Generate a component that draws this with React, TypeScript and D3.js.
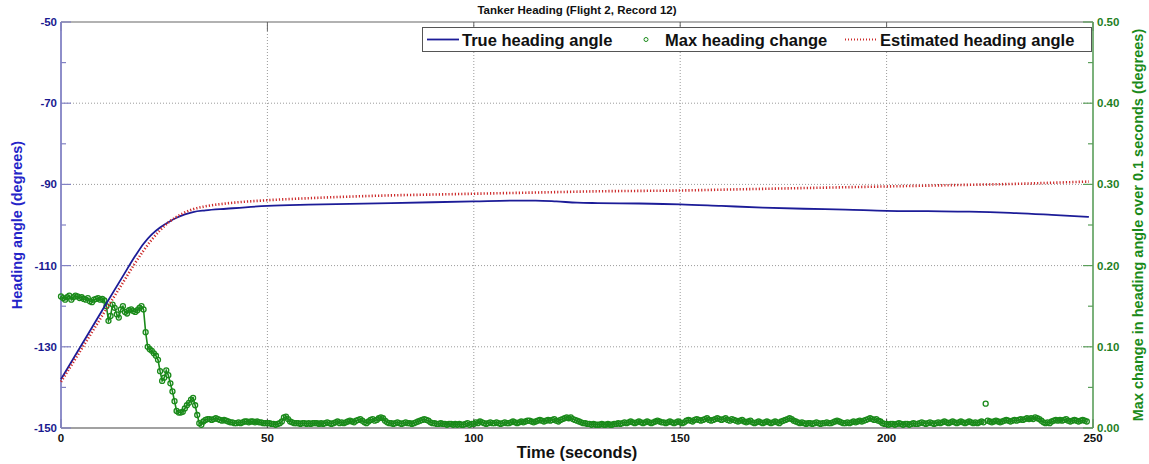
import React from 'react';
import * as d3 from 'd3';

// Axis ticks
const timeTicks = [0, 50, 100, 150, 200, 250];
const headingTicks = [-50, -70, -90, -110, -130, -150];
const changeTicks = [0, 0.1, 0.2, 0.3, 0.4, 0.5];

// True heading angle (degrees)
const trueTimes = [0, 5, 10, 15, 18, 20, 22, 24, 26, 28, 30, 32, 35, 40, 50, 60, 70, 80, 90, 100, 110, 115, 120, 125, 130, 140, 150, 160, 170, 180, 190, 200, 210, 220, 230, 240, 249];
const trueHeading = [-138.0, -129.5, -121.0, -112.6, -107.6, -104.6, -102.3, -100.6, -99.3, -98.2, -97.4, -96.8, -96.4, -96.0, -95.3, -95.0, -94.8, -94.6, -94.4, -94.2, -94.0, -94.0, -94.2, -94.5, -94.6, -94.7, -94.9, -95.3, -95.7, -96.0, -96.2, -96.5, -96.6, -96.7, -97.0, -97.5, -98.0];

// Estimated heading angle (degrees)
const estTimes = [0, 5, 10, 15, 18, 20, 22, 24, 26, 28, 30, 32, 35, 40, 50, 60, 70, 80, 90, 100, 110, 120, 130, 140, 150, 160, 170, 180, 190, 200, 210, 220, 230, 240, 249];
const estHeading = [-138.6, -130.5, -122.3, -114.2, -109.3, -106.3, -103.6, -101.3, -99.4, -98.0, -96.9, -96.1, -95.4, -94.7, -93.9, -93.4, -93.0, -92.7, -92.5, -92.3, -92.1, -91.9, -91.7, -91.6, -91.5, -91.3, -91.1, -90.9, -90.7, -90.5, -90.3, -90.1, -89.9, -89.6, -89.3];

// Max heading change over 0.1 s (degrees), sampled every 0.5 s from t = 0
const changeStep = 0.5;
const maxChange = [
  0.162, 0.160, 0.158, 0.161, 0.163, 0.158, 0.161, 0.163, 0.162, 0.160,
  0.161, 0.159, 0.158, 0.160, 0.156, 0.155, 0.158, 0.159, 0.160, 0.158,
  0.159, 0.157, 0.150, 0.132, 0.138, 0.152, 0.148, 0.140, 0.136, 0.146,
  0.150, 0.143, 0.141, 0.145, 0.146, 0.144, 0.143, 0.145, 0.148, 0.150,
  0.146, 0.118, 0.100, 0.097, 0.095, 0.092, 0.089, 0.084, 0.070, 0.058,
  0.062, 0.071, 0.065, 0.055, 0.045, 0.033, 0.021, 0.019, 0.019, 0.020,
  0.024, 0.028, 0.031, 0.035, 0.037, 0.028, 0.016, 0.006, 0.004, 0.008,
  0.010, 0.011, 0.011, 0.010, 0.011, 0.012, 0.011, 0.010, 0.009, 0.010,
  0.009, 0.008, 0.007, 0.007, 0.006, 0.006, 0.007, 0.006, 0.007, 0.008,
  0.008, 0.007, 0.008, 0.008, 0.007, 0.008, 0.007, 0.007, 0.006, 0.006,
  0.006, 0.006, 0.005, 0.005, 0.004, 0.005, 0.006, 0.008, 0.013, 0.014,
  0.011, 0.008, 0.007, 0.006, 0.006, 0.006, 0.005, 0.006, 0.006, 0.005,
  0.006, 0.005, 0.006, 0.006, 0.006, 0.005, 0.006, 0.005, 0.006, 0.007,
  0.006, 0.005, 0.006, 0.007, 0.008, 0.006, 0.007, 0.006, 0.007, 0.008,
  0.009, 0.008, 0.007, 0.009, 0.010, 0.011, 0.009, 0.007, 0.006, 0.008,
  0.010, 0.011, 0.009, 0.010, 0.012, 0.013, 0.012, 0.009, 0.007, 0.006,
  0.006, 0.005, 0.006, 0.007, 0.006, 0.005, 0.006, 0.007, 0.006, 0.006,
  0.005, 0.006, 0.007, 0.008, 0.009, 0.010, 0.011, 0.010, 0.009, 0.007,
  0.006, 0.006, 0.005, 0.005, 0.006, 0.005, 0.005, 0.004, 0.005, 0.005,
  0.004, 0.005, 0.004, 0.005, 0.004, 0.004, 0.005, 0.006, 0.004, 0.005,
  0.005, 0.007, 0.006, 0.008, 0.007, 0.006, 0.005, 0.006, 0.007, 0.006,
  0.006, 0.007, 0.006, 0.005, 0.006, 0.007, 0.006, 0.006, 0.007, 0.008,
  0.007, 0.006, 0.007, 0.008, 0.007, 0.008, 0.009, 0.009, 0.008, 0.007,
  0.008, 0.009, 0.010, 0.009, 0.008, 0.009, 0.010, 0.009, 0.010, 0.011,
  0.009, 0.008, 0.010, 0.011, 0.012, 0.013, 0.012, 0.013, 0.011, 0.010,
  0.009, 0.008, 0.007, 0.006, 0.006, 0.005, 0.005, 0.004, 0.005, 0.004,
  0.004, 0.004, 0.005, 0.004, 0.004, 0.005, 0.004, 0.004, 0.005, 0.005,
  0.006, 0.005, 0.006, 0.007, 0.006, 0.007, 0.008, 0.007, 0.006, 0.007,
  0.008, 0.007, 0.006, 0.007, 0.008, 0.007, 0.006, 0.007, 0.008, 0.009,
  0.008, 0.007, 0.007, 0.006, 0.007, 0.008, 0.007, 0.006, 0.007, 0.008,
  0.007, 0.006, 0.007, 0.009, 0.010, 0.009, 0.008, 0.010, 0.011, 0.010,
  0.009, 0.010, 0.011, 0.012, 0.010, 0.009, 0.010, 0.011, 0.012, 0.011,
  0.010, 0.011, 0.012, 0.010, 0.009, 0.011, 0.010, 0.009, 0.008, 0.009,
  0.010, 0.008, 0.007, 0.008, 0.009, 0.007, 0.006, 0.007, 0.008, 0.007,
  0.006, 0.007, 0.008, 0.007, 0.006, 0.007, 0.008, 0.007, 0.006, 0.008,
  0.009, 0.010, 0.011, 0.012, 0.011, 0.009, 0.008, 0.007, 0.006, 0.007,
  0.006, 0.005, 0.006, 0.006, 0.005, 0.006, 0.007, 0.006, 0.005, 0.006,
  0.006, 0.007, 0.006, 0.006, 0.007, 0.008, 0.009, 0.008, 0.007, 0.006,
  0.006, 0.007, 0.006, 0.007, 0.008, 0.007, 0.008, 0.009, 0.008, 0.009,
  0.010, 0.011, 0.012, 0.011, 0.010, 0.011, 0.009, 0.008, 0.006, 0.005,
  0.005, 0.004, 0.005, 0.005, 0.004, 0.005, 0.006, 0.005, 0.004, 0.005,
  0.005, 0.004, 0.005, 0.006, 0.005, 0.005, 0.006, 0.007, 0.006, 0.005,
  0.006, 0.007, 0.006, 0.005, 0.006, 0.007, 0.006, 0.007, 0.008, 0.007,
  0.006, 0.007, 0.008, 0.007, 0.006, 0.007, 0.008, 0.007, 0.006, 0.007,
  0.008, 0.007, 0.006, 0.007, 0.006, 0.007, 0.008, 0.007, 0.030, 0.009,
  0.008, 0.007, 0.008, 0.009, 0.008, 0.007, 0.008, 0.009, 0.010, 0.009,
  0.008, 0.009, 0.010, 0.009, 0.010, 0.011, 0.010, 0.011, 0.012, 0.011,
  0.012, 0.011, 0.013, 0.012, 0.011, 0.009, 0.007, 0.006, 0.007, 0.006,
  0.008, 0.009, 0.010, 0.009, 0.010, 0.009, 0.010, 0.011, 0.009, 0.008,
  0.009, 0.010, 0.009, 0.008, 0.009, 0.010, 0.009, 0.008,
];

const FONT = '"Liberation Sans", Arial, sans-serif';
const BLUE = '#1c1c98';
const RED = '#cc2a2a';
const GREEN = '#1a8a1a';

export default function App() {
  const width = 1149;
  const height = 464;
  const plot = { left: 61, right: 1093, top: 22, bottom: 428 };

  const x = d3.scaleLinear().domain([0, 250]).range([plot.left, plot.right]);
  const y = d3.scaleLinear().domain([-150, -50]).range([plot.bottom, plot.top]);
  const y2 = d3.scaleLinear().domain([0, 0.5]).range([plot.bottom, plot.top]);

  const line = d3
    .line<[number, number]>()
    .x(d => x(d[0]))
    .y(d => y(d[1]))
    .curve(d3.curveMonotoneX);

  const truePath = line(trueTimes.map((t, i) => [t, trueHeading[i]]));
  const estPath = line(estTimes.map((t, i) => [t, estHeading[i]]));

  // the marker trail is very dense in the source, so join the markers with a thin trace
  const changePoints: [number, number][] = maxChange.map((v, i) => [i * changeStep, v]);
  const outlierIdx = maxChange.indexOf(d3.max(maxChange.slice(100)) as number);
  const trailPath = d3
    .line<[number, number]>()
    .x(d => x(d[0]))
    .y(d => y2(d[1]))
    .defined((_, i) => i !== outlierIdx)(changePoints);

  const minorLeft = d3.range(-150, -49, 10).filter(v => !headingTicks.includes(v));
  const minorRight = d3.range(0.05, 0.5, 0.1);

  return (
    <svg width={width} height={height} style={{ position: 'absolute', left: 0, top: 0, background: '#fff' }} fontFamily={FONT}>
      <rect x={0} y={0} width={width} height={height} fill="#fff" />

      {/* grid */}
      {timeTicks.filter(t => t > 0 && t < 250).map(t => (
        <line key={'gx' + t} x1={x(t)} x2={x(t)} y1={plot.top} y2={plot.bottom} stroke="#9a9a9a" strokeWidth={1} strokeDasharray="1,2" />
      ))}
      {headingTicks.filter(v => v > -150 && v < -50).map(v => (
        <line key={'gy' + v} x1={plot.left} x2={plot.right} y1={y(v)} y2={y(v)} stroke="#9a9a9a" strokeWidth={1} strokeDasharray="1,2" />
      ))}

      {/* top border and bottom axis */}
      <line x1={plot.left} x2={plot.right} y1={plot.top} y2={plot.top} stroke="#666" strokeWidth={1.2} />
      <line x1={plot.left} x2={plot.right} y1={plot.bottom} y2={plot.bottom} stroke="#444" strokeWidth={1.2} />
      {timeTicks.map(t => (
        <g key={'tx' + t}>
          <line x1={x(t)} x2={x(t)} y1={plot.top} y2={plot.top + 9} stroke="#666" />
          <line x1={x(t)} x2={x(t)} y1={plot.bottom} y2={plot.bottom - 9} stroke="#444" />
          <text x={x(t)} y={plot.bottom + 14} textAnchor="middle" fontSize={11.5} fontWeight="bold" fill="#111">{t}</text>
        </g>
      ))}

      {/* left axis */}
      <line x1={plot.left} x2={plot.left} y1={plot.top} y2={plot.bottom} stroke="#8282c4" strokeWidth={1.8} />
      {headingTicks.map(v => (
        <g key={'ly' + v}>
          <line x1={plot.left} x2={plot.left + 10} y1={y(v)} y2={y(v)} stroke="#8282c4" strokeWidth={1.2} />
          <text x={plot.left - 4} y={y(v) + 4} textAnchor="end" fontSize={11.5} fontWeight="bold" fill="#1a1a90">{v}</text>
        </g>
      ))}
      {minorLeft.map(v => (
        <line key={'lm' + v} x1={plot.left} x2={plot.left + 5} y1={y(v)} y2={y(v)} stroke="#8282c4" strokeWidth={1.2} />
      ))}
      <text transform={`translate(22,${(plot.top + plot.bottom) / 2}) rotate(-90)`} textAnchor="middle" fontSize={14.5} fontWeight="bold" fill="#2424c8">Heading angle (degrees)</text>

      {/* right axis */}
      <line x1={plot.right} x2={plot.right} y1={plot.top} y2={plot.bottom} stroke="#5a9e5a" strokeWidth={1.6} />
      {changeTicks.map(v => (
        <g key={'ry' + v}>
          <line x1={plot.right} x2={plot.right - 10} y1={y2(v)} y2={y2(v)} stroke="#5a9e5a" strokeWidth={1.2} />
          <text x={plot.right + 4} y={y2(v) + 4} textAnchor="start" fontSize={11.5} fontWeight="bold" fill="#1f7f1f">{v.toFixed(2)}</text>
        </g>
      ))}
      {minorRight.map(v => (
        <line key={'rm' + v} x1={plot.right} x2={plot.right - 5} y1={y2(v)} y2={y2(v)} stroke="#5a9e5a" strokeWidth={1.2} />
      ))}
      <text transform={`translate(1143,${(plot.top + plot.bottom) / 2}) rotate(-90)`} textAnchor="middle" fontSize={14.5} fontWeight="bold" fill={GREEN}>Max change in heading angle over 0.1 seconds (degrees)</text>

      {/* series */}
      <path d={trailPath || ''} fill="none" stroke={GREEN} strokeWidth={1.6} />
      <g>
        {changePoints.map((d, i) => (
          <circle key={'c' + i} cx={x(d[0])} cy={y2(d[1])} r={2.5} fill="none" stroke={GREEN} strokeWidth={1.3} />
        ))}
      </g>
      <path d={truePath || ''} fill="none" stroke={BLUE} strokeWidth={1.8} />
      <path d={estPath || ''} fill="none" stroke={RED} strokeWidth={2.6} strokeDasharray="1.2,2" />

      {/* title */}
      <text x={(plot.left + plot.right) / 2} y={14} textAnchor="middle" fontSize={11.5} fontWeight="bold" fill="#111">Tanker Heading (Flight 2, Record 12)</text>

      {/* x label */}
      <text x={(plot.left + plot.right) / 2} y={458} textAnchor="middle" fontSize={16.5} fontWeight="bold" fill="#111">Time (seconds)</text>

      {/* legend */}
      <g>
        <rect x={422.5} y={27.5} width={669} height={24} fill="#fff" stroke="#555" strokeWidth={1} />
        <line x1={427} x2={459} y1={39.5} y2={39.5} stroke={BLUE} strokeWidth={1.8} />
        <text x={462} y={45.5} fontSize={16.5} fontWeight="bold" fill="#111">True heading angle</text>
        <circle cx={646} cy={39.5} r={2} fill="none" stroke={GREEN} strokeWidth={1} />
        <text x={665} y={45.5} fontSize={16.5} fontWeight="bold" fill="#111">Max heading change</text>
        <line x1={845} x2={876} y1={39.5} y2={39.5} stroke={RED} strokeWidth={2} strokeDasharray="1,2" />
        <text x={880} y={45.5} fontSize={16.5} fontWeight="bold" fill="#111">Estimated heading angle</text>
      </g>
    </svg>
  );
}
